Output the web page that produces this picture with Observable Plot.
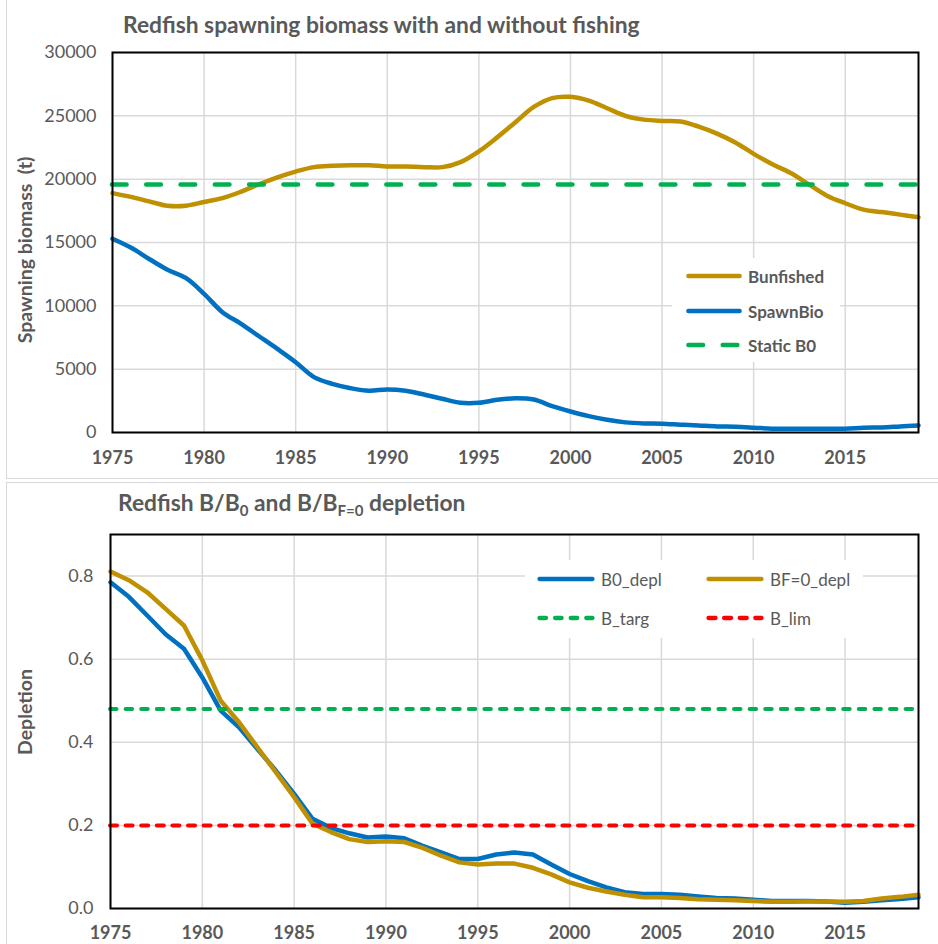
<!DOCTYPE html>
<html><head><meta charset="utf-8">
<script src="https://cdn.jsdelivr.net/npm/d3@7"></script>
<script src="https://cdn.jsdelivr.net/npm/@observablehq/plot@0.6"></script>
<style>
body{margin:0;background:#fff;font-family:Lato,"Open Sans",sans-serif;}
#wrap{position:relative;width:938px;height:944px;overflow:hidden;background:#fff;}
.abs{position:absolute;}
.title{position:absolute;font-weight:bold;font-size:22.8px;color:#595959;white-space:nowrap;line-height:1;}
.title sub{font-size:15px;vertical-align:-5px;line-height:0;}
.ylab{position:absolute;font-weight:bold;font-size:19.5px;color:#595959;white-space:nowrap;transform:translate(-50%,-50%) rotate(-90deg);line-height:1;}
.legend{position:absolute;background:#fff;}
.lg-item{position:absolute;display:flex;align-items:center;white-space:nowrap;color:#595959;font-size:17px;line-height:1;}
.lg-item svg{display:block;margin-right:6px;}
.sep{position:absolute;background:#d9d9d9;}
</style></head>
<body><div id="wrap"></div>
<script>
// ---------- data ----------
const years = [1975,1976,1977,1978,1979,1980,1981,1982,1983,1984,
               1985,1986,1987,1988,1989,1990,1991,1992,1993,1994,
               1995,1996,1997,1998,1999,2000,2001,2002,2003,2004,
               2005,2006,2007,2008,2009,2010,2011,2012,2013,2014,
               2015,2016,2017,2018,2019];
const bunfished = [18900,18600,18250,17900,17900,18200,18500,19000,19600,20150,
                   20600,20950,21050,21100,21100,21000,21000,20950,20950,21350,
                   22200,23300,24500,25700,26400,26500,26200,25600,25000,24700,
                   24600,24550,24150,23600,22900,22000,21200,20500,19600,18700,
                   18100,17600,17400,17200,17000];
const spawnBio = [15300,14600,13700,12850,12200,10950,9500,8600,7600,6600,
                  5550,4370,3840,3500,3300,3400,3300,3000,2660,2350,
                  2350,2580,2700,2600,2080,1660,1290,1000,800,720,
                  700,620,550,480,450,380,300,300,300,300,
                  300,380,400,480,560];
const staticB0 = 19580;
const b0Depl = [0.785,0.75,0.705,0.66,0.625,0.556,0.476,0.436,0.384,0.332,
                0.276,0.216,0.194,0.181,0.171,0.173,0.169,0.151,0.135,0.119,
                0.119,0.13,0.135,0.13,0.106,0.083,0.066,0.051,0.039,0.035,
                0.035,0.033,0.029,0.025,0.024,0.021,0.018,0.018,0.018,0.017,
                0.014,0.016,0.02,0.023,0.027];
const bf0Depl = [0.811,0.79,0.761,0.721,0.681,0.597,0.50,0.448,0.388,0.328,
                 0.268,0.204,0.184,0.167,0.16,0.162,0.16,0.146,0.127,0.111,
                 0.106,0.108,0.108,0.098,0.082,0.063,0.05,0.041,0.033,0.027,
                 0.027,0.025,0.022,0.021,0.020,0.018,0.016,0.016,0.017,0.017,
                 0.016,0.018,0.024,0.028,0.033];
const bTarg = 0.48;
const bLim = 0.2;
const xTicks = [1975,1980,1985,1990,1995,2000,2005,2010,2015];
const yTicksTop = [0,5000,10000,15000,20000,25000,30000];
const yTicksBot = [0,0.2,0.4,0.6,0.8];

const C = {gold:"#BF9000", blue:"#0070C0", green:"#00B050", red:"#FF0000", grid:"#D9D9D9", text:"#595959"};

const wrap = document.getElementById("wrap");
const topRows = years.map((y,i)=>({year:y, bunf:bunfished[i], spawn:spawnBio[i]}));
const botRows = years.map((y,i)=>({year:y, b0:b0Depl[i], bf0:bf0Depl[i]}));

const common = {fontFamily:"Lato, 'Open Sans', sans-serif", color:C.text, background:"transparent", overflow:"visible"};

// ---------- top chart ----------
const topPlot = Plot.plot({
  width:938, height:478,
  marginLeft:112, marginRight:20, marginTop:52, marginBottom:46,
  style: common,
  x:{domain:[1975,2019]},
  y:{domain:[0,30000]},
  marks:[
    Plot.gridX(xTicks, {stroke:C.grid, strokeOpacity:1, strokeWidth:1.5}),
    Plot.gridY(yTicksTop, {stroke:C.grid, strokeOpacity:1, strokeWidth:1.5}),
    Plot.lineY(topRows, {x:"year", y:"bunf", stroke:C.gold, strokeWidth:4.5, curve:"catmull-rom"}),
    Plot.lineY(topRows, {x:"year", y:"spawn", stroke:C.blue, strokeWidth:4.5, curve:"catmull-rom"}),
    Plot.ruleY([staticB0], {stroke:C.green, strokeWidth:4.7, strokeDasharray:"14.5,19.8", strokeLinecap:"round"}),
    Plot.frame({stroke:"#000", strokeWidth:2}),
    Plot.axisX(xTicks, {tickSize:0, tickPadding:19, tickFormat:d=>String(d), label:null, fontSize:18, fontWeight:"bold", fill:C.text}),
    Plot.axisY(yTicksTop, {tickSize:0, tickPadding:16, tickFormat:d=>String(d), label:null, fontSize:18, fill:C.text})
  ]
});
topPlot.classList.add("abs");
topPlot.style.left = "0px"; topPlot.style.top = "0px";
wrap.appendChild(topPlot);

// ---------- bottom chart ----------
const botPlot = Plot.plot({
  width:938, height:461,
  marginLeft:110, marginRight:20, marginTop:51, marginBottom:36,
  style: common,
  x:{domain:[1975,2019]},
  y:{domain:[0,0.9]},
  marks:[
    Plot.gridX(xTicks, {stroke:C.grid, strokeOpacity:1, strokeWidth:1.5}),
    Plot.gridY(yTicksBot, {stroke:C.grid, strokeOpacity:1, strokeWidth:1.5}),
    Plot.lineY(botRows, {x:"year", y:"b0", stroke:C.blue, strokeWidth:4.5, strokeLinejoin:"round"}),
    Plot.lineY(botRows, {x:"year", y:"bf0", stroke:C.gold, strokeWidth:4.5, strokeLinejoin:"round"}),
    Plot.ruleY([bTarg], {stroke:C.green, strokeWidth:4, strokeDasharray:"6.5,9.1", strokeLinecap:"round"}),
    Plot.ruleY([bLim], {stroke:C.red, strokeWidth:4, strokeDasharray:"7,8.6", strokeLinecap:"round"}),
    Plot.frame({stroke:"#000", strokeWidth:2}),
    Plot.axisX(xTicks, {tickSize:0, tickPadding:18, tickFormat:d=>String(d), label:null, fontSize:18, fontWeight:"bold", fill:C.text}),
    Plot.axisY(yTicksBot, {tickSize:0, tickPadding:17, tickFormat:d=>d.toFixed(1), label:null, fontSize:18, fill:C.text})
  ]
});
botPlot.classList.add("abs");
botPlot.style.left = "0px"; botPlot.style.top = "483px";
wrap.appendChild(botPlot);

// ---------- separators (chart-object borders) ----------
function sep(l,t,w,h){const d=document.createElement("div");d.className="sep";Object.assign(d.style,{left:l+"px",top:t+"px",width:w+"px",height:h+"px"});wrap.appendChild(d);}
sep(6,0,1,478); sep(6,478,932,1); sep(6,482,932,1); sep(6,483,1,461);

// ---------- titles ----------
function addHTML(cls, html, style){const d=document.createElement("div");d.className=cls;d.innerHTML=html;Object.assign(d.style,style);wrap.appendChild(d);return d;}
addHTML("title","Redfish spawning biomass with and without fishing",{left:"123px",top:"13px"});
addHTML("title","Redfish B/B<sub>0</sub> and B/B<sub>F=0</sub> depletion",{left:"118px",top:"491px"});
addHTML("ylab","Spawning biomass&nbsp;&nbsp;(t)",{left:"25px",top:"250px"});
addHTML("ylab","Depletion",{left:"25px",top:"712px"});

// ---------- legends ----------
function swatch(color, w, dash, sw){
  return `<svg width="${w}" height="10"><line x1="2.5" x2="${w-2.5}" y1="5" y2="5" stroke="${color}" stroke-width="${sw}" stroke-linecap="round" ${dash?`stroke-dasharray="${dash}"`:""}/></svg>`;
}
const lgTop = document.createElement("div"); lgTop.className="legend";
Object.assign(lgTop.style,{left:"672px",top:"258px",width:"168px",height:"104px"});
wrap.appendChild(lgTop);
const topItems = [
  {name:"Bunfished", color:C.gold, dash:null, y:18},
  {name:"SpawnBio", color:C.blue, dash:null, y:53},
  {name:"Static B0", color:C.green, dash:"14.5,19.8", y:87}
];
topItems.forEach(it=>{
  const d=document.createElement("div"); d.className="lg-item";
  d.style.left="14px"; d.style.top=(it.y-9)+"px"; d.style.height="18px"; d.style.fontWeight="bold";
  d.innerHTML = swatch(it.color,56,it.dash,4.7)+`<span>${it.name}</span>`;
  lgTop.appendChild(d);
});
const lgBot = document.createElement("div"); lgBot.className="legend";
Object.assign(lgBot.style,{left:"525px",top:"560px",width:"338px",height:"78px"});
wrap.appendChild(lgBot);
const botItems = [
  {name:"B0_depl", color:C.blue, dash:null, x:12, y:19},
  {name:"BF=0_depl", color:C.gold, dash:null, x:181, y:19},
  {name:"B_targ", color:C.green, dash:"6.5,9.1", x:12, y:58},
  {name:"B_lim", color:C.red, dash:"7,8.6", x:181, y:58}
];
botItems.forEach(it=>{
  const d=document.createElement("div"); d.className="lg-item";
  d.style.left=it.x+"px"; d.style.top=(it.y-9)+"px"; d.style.height="18px";
  d.innerHTML = swatch(it.color,58,it.dash,4.3)+`<span>${it.name}</span>`;
  lgBot.appendChild(d);
});
</script>
</body></html>
